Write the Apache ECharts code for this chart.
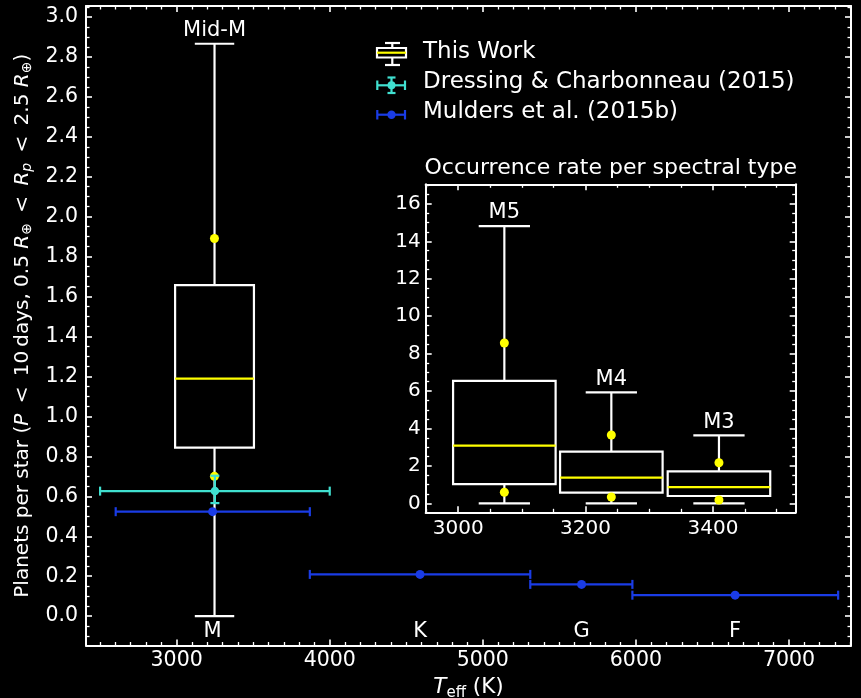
<!DOCTYPE html>
<html>
<head>
<meta charset="utf-8">
<title>Planet occurrence vs. effective temperature</title>
<script src="https://cdn.jsdelivr.net/npm/echarts@6/dist/echarts.min.js"></script>
<style>
  html, body { margin: 0; padding: 0; background: #000; }
  #chart { width: 861px; height: 698px; }
</style>
</head>
<body>
<div id="chart"></div>
<script>
// ---- Main panel: this work (mid-M box) ----
const midMLabel = 'Mid-M';
const midMTeffRange = [2990, 3505];              // Teff span of the box (K)
const midMStats = [0.0, 0.844, 1.189, 1.657, 2.866]; // whisker low, Q1, median, Q3, whisker high
const midMTeff = 3247;
const midMPoints = [1.891, 0.70];

// ---- Dressing & Charbonneau (2015) ----
const dcTeff = [3250];
const dcTeffLow = [2500];
const dcTeffHigh = [4000];
const dcRate = [0.626];
const dcRateLow = [0.566];
const dcRateHigh = [0.703];

// ---- Mulders et al. (2015b) ----
const mulSpType = ['M', 'K', 'G', 'F'];
const mulTeff = [3235, 4590, 5645, 6648];
const mulTeffLow = [2602, 3870, 5310, 5977];
const mulTeffHigh = [3870, 5310, 5977, 7321];
const mulRate = [0.523, 0.209, 0.159, 0.105];

// ---- Inset: occurrence rate per spectral type ----
const insetTypes = ['M5', 'M4', 'M3'];
const insetTeffLow = [2992, 3160, 3329];
const insetTeffHigh = [3153, 3321, 3490];
const insetStats = [
  [0.0, 1.03, 3.08, 6.54, 14.82],
  [0.0, 0.57, 1.37, 2.76, 5.93],
  [0.0, 0.39, 0.87, 1.71, 3.63]
];
const insetPoints = [
  [8.57, 0.59],
  [3.65, 0.34],
  [2.17, 0.18]
];

// ---- Axis ranges ----
const mainTeffExtent = [2408, 7405];
const mainRateExtent = [-0.147, 3.055];
const insetTeffExtent = [2949, 3530];
const insetRateExtent = [-0.48, 17.05];

const FONT = 'DejaVu Sans';
const FG = '#ffffff';
const YELLOW = '#ffff00';
const CYAN = '#40e0d0';
const BLUE = '#1a3ce6';
const LW = 2.2;
const LEGEND_FONT = '23px "' + FONT + '"';

function frameAxis(o) {
  return Object.assign({
    type: 'value',
    scale: true,
    axisLine: { show: true, onZero: false, lineStyle: { color: FG, width: 2 } },
    axisTick: { show: true, inside: true, length: 6, lineStyle: { color: FG, width: 1.6 } },
    minorTick: { show: true, splitNumber: o.minor, length: 3.5, lineStyle: { color: FG, width: 1.3 } },
    splitLine: { show: false },
    minorSplitLine: { show: false },
    axisLabel: {
      show: !!o.labels, color: FG, fontSize: o.fontSize || 20, fontFamily: FONT,
      margin: o.margin || 6, showMinLabel: false, showMaxLabel: false,
      formatter: o.formatter || (v => String(v))
    }
  }, o.extra);
}

// Box-and-whisker glyph drawn in data coordinates
function boxRenderer(lows, highs, stats, labels) {
  return function (params, api) {
    const i = params.dataIndex;
    const s = stats[i];
    const xl = lows[i], xh = highs[i], xc = (xl + xh) / 2;
    const half = (xh - xl) / 4;
    const tl = api.coord([xl, s[3]]);
    const br = api.coord([xh, s[1]]);
    const med = api.coord([xl, s[2]])[1];
    const cx = api.coord([xc, 0])[0];
    const capL = api.coord([xc - half, 0])[0];
    const capR = api.coord([xc + half, 0])[0];
    const yLo = api.coord([xc, s[0]])[1];
    const yHi = api.coord([xc, s[4]])[1];
    const wStyle = { stroke: FG, lineWidth: LW, fill: null };
    return {
      type: 'group',
      children: [
        { type: 'line', shape: { x1: cx, y1: br[1], x2: cx, y2: yLo }, style: wStyle },
        { type: 'line', shape: { x1: cx, y1: tl[1], x2: cx, y2: yHi }, style: wStyle },
        { type: 'line', shape: { x1: capL, y1: yLo, x2: capR, y2: yLo }, style: wStyle },
        { type: 'line', shape: { x1: capL, y1: yHi, x2: capR, y2: yHi }, style: wStyle },
        { type: 'rect', shape: { x: tl[0], y: tl[1], width: br[0] - tl[0], height: br[1] - tl[1] }, style: wStyle },
        { type: 'line', shape: { x1: tl[0], y1: med, x2: br[0], y2: med }, style: { stroke: YELLOW, lineWidth: LW } },
        { type: 'text', style: { text: labels[i], x: cx, y: yHi - 13, align: 'center', verticalAlign: 'middle',
          fill: FG, font: '21px "' + FONT + '"' } }
      ]
    };
  };
}

// Error bars (horizontal always, vertical when given) with caps
function errRenderer(xs, xlo, xhi, ys, ylo, yhi, color) {
  return function (params, api) {
    const i = params.dataIndex;
    const p0 = api.coord([xlo[i], ys[i]]);
    const p1 = api.coord([xhi[i], ys[i]]);
    const st = { stroke: color, lineWidth: LW };
    const cap = 4.5;
    const ch = [
      { type: 'line', shape: { x1: p0[0], y1: p0[1], x2: p1[0], y2: p1[1] }, style: st },
      { type: 'line', shape: { x1: p0[0], y1: p0[1] - cap, x2: p0[0], y2: p0[1] + cap }, style: st },
      { type: 'line', shape: { x1: p1[0], y1: p1[1] - cap, x2: p1[0], y2: p1[1] + cap }, style: st }
    ];
    if (ylo && yhi) {
      const q0 = api.coord([xs[i], ylo[i]]);
      const q1 = api.coord([xs[i], yhi[i]]);
      ch.push(
        { type: 'line', shape: { x1: q0[0], y1: q0[1], x2: q1[0], y2: q1[1] }, style: st },
        { type: 'line', shape: { x1: q0[0] - cap, y1: q0[1], x2: q0[0] + cap, y2: q0[1] }, style: st },
        { type: 'line', shape: { x1: q1[0] - cap, y1: q1[1], x2: q1[0] + cap, y2: q1[1] }, style: st }
      );
    }
    return { type: 'group', children: ch };
  };
}

const chart = echarts.init(document.getElementById('chart'), null, { renderer: 'canvas' });

const rich = {
  n: { fontSize: 20, fontFamily: FONT, color: FG },
  i: { fontSize: 20, fontFamily: FONT, color: FG, fontStyle: 'italic' },
  s: { fontSize: 14, fontFamily: FONT, color: FG, padding: [10, 0, 0, 0] },
  si: { fontSize: 14, fontFamily: FONT, color: FG, fontStyle: 'italic', padding: [10, 0, 0, 0] }
};
const xRich = {
  n: { fontSize: 21.5, fontFamily: FONT, color: FG },
  i: { fontSize: 21.5, fontFamily: FONT, color: FG, fontStyle: 'italic' },
  s: { fontSize: 15, fontFamily: FONT, color: FG, padding: [11, 0, 0, 0] }
};
const TS = '\u2009';

const option = {
  animation: false,
  backgroundColor: '#000000',
  grid: [
    { left: 86, top: 6, width: 765, height: 639.5, containLabel: false, outerBoundsMode: 'none' },
    { left: 425.7, top: 184.3, width: 370, height: 328, containLabel: false, outerBoundsMode: 'none' }
  ],
  xAxis: [
    frameAxis({ minor: 10, labels: true, margin: 5, fontSize: 20.5, extra: {
      gridIndex: 0, position: 'bottom', min: mainTeffExtent[0], max: mainTeffExtent[1],
      splitNumber: 5, minInterval: 1000, maxInterval: 1000,
      name: '{i|T}{s|eff}{n| (K)}', nameLocation: 'middle', nameGap: 26,
      nameTextStyle: { color: FG, rich: xRich } } }),
    frameAxis({ minor: 10, labels: false, extra: {
      gridIndex: 0, position: 'top', min: mainTeffExtent[0], max: mainTeffExtent[1],
      splitNumber: 5, minInterval: 1000, maxInterval: 1000 } }),
    frameAxis({ minor: 4, labels: true, margin: 6, extra: {
      gridIndex: 1, position: 'bottom', min: insetTeffExtent[0], max: insetTeffExtent[1],
      splitNumber: 3, minInterval: 200, maxInterval: 200 } }),
    frameAxis({ minor: 4, labels: false, extra: {
      gridIndex: 1, position: 'top', min: insetTeffExtent[0], max: insetTeffExtent[1],
      splitNumber: 3, minInterval: 200, maxInterval: 200,
      name: 'Occurrence rate per spectral type', nameLocation: 'middle', nameGap: 5,
      nameTextStyle: { color: FG, fontSize: 22, fontFamily: FONT } } })
  ],
  yAxis: [
    frameAxis({ minor: 4, labels: true, margin: 8, fontSize: 20.5, formatter: v => v.toFixed(1), extra: {
      gridIndex: 0, position: 'left', min: mainRateExtent[0], max: mainRateExtent[1],
      splitNumber: 16, minInterval: 0.2, maxInterval: 0.2,
      name: '{n|Planets per star (}{i|P}{n|' + TS + ' < ' + TS + '10' + TS + 'days, 0.5 }{i|R}{s|⊕}{n|' + TS + ' < ' + TS + '}{i|R}{si|p}{n|' + TS + ' < ' + TS + '2.5 }{i|R}{s|⊕}{n|)}',
      nameLocation: 'middle', nameGap: 39, nameRotate: 90,
      nameTextStyle: { color: FG, rich: rich } } }),
    frameAxis({ minor: 4, labels: false, extra: {
      gridIndex: 0, position: 'right', min: mainRateExtent[0], max: mainRateExtent[1],
      splitNumber: 16, minInterval: 0.2, maxInterval: 0.2 } }),
    frameAxis({ minor: 4, labels: true, margin: 5, formatter: v => String(Math.round(v)), extra: {
      gridIndex: 1, position: 'left', min: insetRateExtent[0], max: insetRateExtent[1],
      splitNumber: 9, minInterval: 2, maxInterval: 2 } }),
    frameAxis({ minor: 4, labels: false, extra: {
      gridIndex: 1, position: 'right', min: insetRateExtent[0], max: insetRateExtent[1],
      splitNumber: 9, minInterval: 2, maxInterval: 2 } })
  ],
  series: [
    {
      name: 'This Work', type: 'custom', xAxisIndex: 0, yAxisIndex: 0,
      renderItem: boxRenderer([midMTeffRange[0]], [midMTeffRange[1]], [midMStats], [midMLabel]),
      data: [[midMTeffRange[0], midMTeffRange[1]].concat(midMStats)],
      encode: { x: [0, 1], y: [2, 3, 4, 5, 6] }, z: 2
    },
    {
      type: 'scatter', xAxisIndex: 0, yAxisIndex: 0, symbolSize: 9,
      itemStyle: { color: YELLOW, opacity: 1 },
      data: midMPoints.map(v => [midMTeff, v]), z: 3
    },
    {
      name: 'Dressing & Charbonneau (2015)', type: 'custom', xAxisIndex: 0, yAxisIndex: 0,
      renderItem: errRenderer(dcTeff, dcTeffLow, dcTeffHigh, dcRate, dcRateLow, dcRateHigh, CYAN),
      data: dcTeff.map((t, i) => [t, dcRate[i]]), z: 4
    },
    {
      type: 'scatter', xAxisIndex: 0, yAxisIndex: 0, symbolSize: 8.5,
      itemStyle: { color: CYAN, opacity: 1 },
      data: dcTeff.map((t, i) => [t, dcRate[i]]), z: 5
    },
    {
      name: 'Mulders et al. (2015b)', type: 'custom', xAxisIndex: 0, yAxisIndex: 0,
      renderItem: errRenderer(mulTeff, mulTeffLow, mulTeffHigh, mulRate, null, null, BLUE),
      data: mulTeff.map((t, i) => [t, mulRate[i]]), z: 6
    },
    {
      type: 'scatter', xAxisIndex: 0, yAxisIndex: 0, symbolSize: 9,
      itemStyle: { color: BLUE, opacity: 1 },
      data: mulTeff.map((t, i) => [t, mulRate[i]]), z: 7
    },
    {
      // spectral type names along the bottom of the main panel
      type: 'custom', xAxisIndex: 0, yAxisIndex: 0, silent: true,
      renderItem: function (params, api) {
        const i = params.dataIndex;
        const cs = params.coordSys;
        return { type: 'text', style: { text: mulSpType[i], x: api.coord([mulTeff[i], 0])[0],
          y: cs.y + cs.height - 14, align: 'center', verticalAlign: 'middle', fill: FG,
          font: '21px "' + FONT + '"' } };
      },
      data: mulTeff.map(t => [t, 0]), z: 8
    },
    {
      type: 'custom', xAxisIndex: 2, yAxisIndex: 2,
      renderItem: boxRenderer(insetTeffLow, insetTeffHigh, insetStats, insetTypes),
      data: insetTypes.map((t, i) => [insetTeffLow[i], insetTeffHigh[i]].concat(insetStats[i])),
      encode: { x: [0, 1], y: [2, 3, 4, 5, 6] }, z: 10
    },
    {
      type: 'scatter', xAxisIndex: 2, yAxisIndex: 2, symbolSize: 9,
      itemStyle: { color: YELLOW, opacity: 1 },
      data: insetPoints.flatMap((pts, i) => pts.map(v => [(insetTeffLow[i] + insetTeffHigh[i]) / 2, v])), z: 11
    }
  ],
  graphic: [
    // legend: This Work (miniature box)
    { type: 'line', silent: true, shape: { x1: 385, y1: 43, x2: 400, y2: 43 }, style: { stroke: FG, lineWidth: LW } },
    { type: 'line', silent: true, shape: { x1: 392.3, y1: 43, x2: 392.3, y2: 48 }, style: { stroke: FG, lineWidth: LW } },
    { type: 'rect', silent: true, shape: { x: 377, y: 48, width: 29, height: 9.5 }, style: { stroke: FG, lineWidth: LW, fill: null } },
    { type: 'line', silent: true, shape: { x1: 377, y1: 52.7, x2: 406, y2: 52.7 }, style: { stroke: YELLOW, lineWidth: LW } },
    { type: 'line', silent: true, shape: { x1: 392.3, y1: 57.5, x2: 392.3, y2: 65 }, style: { stroke: FG, lineWidth: LW } },
    { type: 'line', silent: true, shape: { x1: 385, y1: 65, x2: 400, y2: 65 }, style: { stroke: FG, lineWidth: LW } },
    { type: 'text', silent: true, style: { text: 'This Work', x: 423, y: 52, verticalAlign: 'middle', fill: FG, font: LEGEND_FONT } },
    // legend: Dressing & Charbonneau
    { type: 'line', silent: true, shape: { x1: 377.3, y1: 85.3, x2: 405, y2: 85.3 }, style: { stroke: CYAN, lineWidth: LW } },
    { type: 'line', silent: true, shape: { x1: 377.3, y1: 80.5, x2: 377.3, y2: 90 }, style: { stroke: CYAN, lineWidth: LW } },
    { type: 'line', silent: true, shape: { x1: 405, y1: 80.5, x2: 405, y2: 90 }, style: { stroke: CYAN, lineWidth: LW } },
    { type: 'line', silent: true, shape: { x1: 391.5, y1: 77.5, x2: 391.5, y2: 93 }, style: { stroke: CYAN, lineWidth: LW } },
    { type: 'line', silent: true, shape: { x1: 387.5, y1: 77.5, x2: 395.5, y2: 77.5 }, style: { stroke: CYAN, lineWidth: LW } },
    { type: 'line', silent: true, shape: { x1: 387.5, y1: 93, x2: 395.5, y2: 93 }, style: { stroke: CYAN, lineWidth: LW } },
    { type: 'circle', silent: true, shape: { cx: 391.5, cy: 85.3, r: 4 }, style: { fill: CYAN } },
    { type: 'text', silent: true, style: { text: 'Dressing & Charbonneau (2015)', x: 423, y: 82.5, verticalAlign: 'middle', fill: FG, font: LEGEND_FONT } },
    // legend: Mulders et al.
    { type: 'line', silent: true, shape: { x1: 377.3, y1: 114.7, x2: 405, y2: 114.7 }, style: { stroke: BLUE, lineWidth: LW } },
    { type: 'line', silent: true, shape: { x1: 377.3, y1: 110, x2: 377.3, y2: 119.5 }, style: { stroke: BLUE, lineWidth: LW } },
    { type: 'line', silent: true, shape: { x1: 405, y1: 110, x2: 405, y2: 119.5 }, style: { stroke: BLUE, lineWidth: LW } },
    { type: 'circle', silent: true, shape: { cx: 391.5, cy: 114.7, r: 4.2 }, style: { fill: BLUE } },
    { type: 'text', silent: true, style: { text: 'Mulders et al. (2015b)', x: 423, y: 112, verticalAlign: 'middle', fill: FG, font: LEGEND_FONT } }
  ]
};

chart.setOption(option);
</script>
</body>
</html>
